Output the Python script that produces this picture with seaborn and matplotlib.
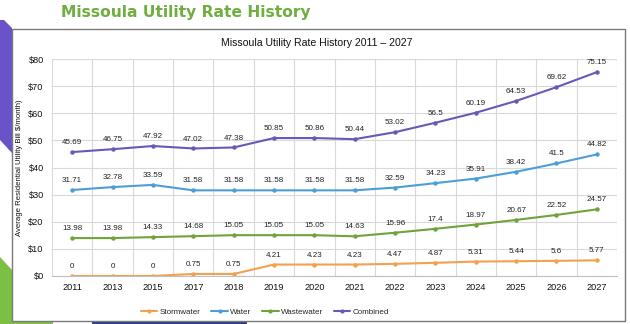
import matplotlib
matplotlib.use("Agg")
import matplotlib.pyplot as plt
from matplotlib.patches import Polygon, Rectangle
from matplotlib.lines import Line2D
from matplotlib.ticker import FixedLocator
import seaborn as sns
import pandas as pd
import numpy as np

years = ["2011", "2013", "2015", "2017", "2018", "2019", "2020", "2021",
         "2022", "2023", "2024", "2025", "2026", "2027"]
stormwater = [0, 0, 0, 0.75, 0.75, 4.21, 4.23, 4.23, 4.47, 4.87, 5.31, 5.44, 5.6, 5.77]
water = [31.71, 32.78, 33.59, 31.58, 31.58, 31.58, 31.58, 31.58, 32.59, 34.23, 35.91, 38.42, 41.5, 44.82]
wastewater = [13.98, 13.98, 14.33, 14.68, 15.05, 15.05, 15.05, 14.63, 15.96, 17.4, 18.97, 20.67, 22.52, 24.57]
combined = [45.69, 46.75, 47.92, 47.02, 47.38, 50.85, 50.86, 50.44, 53.02, 56.5, 60.19, 64.53, 69.62, 75.15]
series_names = ["Stormwater", "Water", "Wastewater", "Combined"]
y_ticks = [0, 10, 20, 30, 40, 50, 60, 70, 80]
y_tick_labels = ["$0", "$10", "$20", "$30", "$40", "$50", "$60", "$70", "$80"]

colors = {"Stormwater": "#f2a14f", "Water": "#4b9fd6", "Wastewater": "#6fa33b", "Combined": "#6a58b8"}

values = {"Stormwater": stormwater, "Water": water, "Wastewater": wastewater, "Combined": combined}
df = pd.DataFrame([(y, s, v) for s in series_names for y, v in zip(years, values[s])],
                  columns=["Year", "Series", "Value"])

sns.set_style("white")
plt.rcParams["font.family"] = ["Liberation Sans", "DejaVu Sans"]

W, H = 630, 324
fig = plt.figure(figsize=(W / 100, H / 100), dpi=100)
fig.patch.set_facecolor("white")

def P(x, y):
    return (x / W, 1 - y / H)

# slide decorations
fig.add_artist(Polygon([P(0, 20), P(4, 20), P(12, 28), P(12, 153), P(0, 140)],
                       closed=True, transform=fig.transFigure, facecolor="#6a52c8",
                       edgecolor="none", zorder=-3))
fig.add_artist(Polygon([P(0, 257), P(12, 270), P(12, 318), P(53, 318), P(53, 324), P(0, 324)],
                       closed=True, transform=fig.transFigure, facecolor="#7bc043",
                       edgecolor="none", zorder=-3))
fig.add_artist(Rectangle(P(92, 324), 155 / W, 3 / H, transform=fig.transFigure,
                         facecolor="#2e3f8f", edgecolor="none", zorder=-3))
# chart box
fig.add_artist(Rectangle(P(12, 321), (625 - 12) / W, (321 - 29) / H, transform=fig.transFigure,
                         facecolor="white", edgecolor="#7a7a7a", linewidth=1.0, zorder=-2))

fig.text(186 / W, 1 - 12 / H, "Missoula Utility Rate History", ha="center", va="center",
         fontsize=11.2, fontweight="bold", color="#6fae3f", family="DejaVu Sans")
fig.text(317 / W, 1 - 43 / H, "Missoula Utility Rate History 2011 – 2027", ha="center",
         va="center", fontsize=7.6, color="#111111")

ax = fig.add_axes([52 / W, 1 - 276 / H, (617 - 52) / W, (276 - 59) / H])
ax.set_facecolor("none")

sns.lineplot(data=df, x="Year", y="Value", hue="Series", hue_order=series_names,
             palette=colors, marker="o", markersize=3.2, markeredgewidth=0,
             linewidth=1.5, sort=False, legend=False, ax=ax)

for s in series_names:
    for i, v in enumerate(values[s]):
        ax.annotate(f"{v:g}", (i, v), xytext=(0, 6.8), textcoords="offset points",
                    ha="center", va="center", fontsize=5.8, color="#222222")

ax.set_xlim(-0.5, len(years) - 0.5)
ax.set_ylim(0, 80)
ax.yaxis.set_major_locator(FixedLocator(y_ticks))
ax.set_yticklabels(y_tick_labels)
ax.xaxis.set_minor_locator(FixedLocator(np.arange(-0.5, len(years), 1)))
ax.grid(True, axis="y", which="major", color="#d9d9d9", linewidth=0.8)
ax.grid(True, axis="x", which="minor", color="#d9d9d9", linewidth=0.8)
ax.grid(False, axis="x", which="major")
ax.tick_params(axis="both", which="both", length=0, labelsize=6.6, colors="#111111")
ax.tick_params(axis="x", pad=5)
ax.tick_params(axis="y", pad=6)
for sp in ["top", "right", "left"]:
    ax.spines[sp].set_visible(False)
ax.spines["bottom"].set_color("#bfbfbf")
ax.spines["bottom"].set_linewidth(0.8)
ax.set_xlabel("")
ax.set_ylabel("Average Residential Utility Bill $/month)", fontsize=5.6, color="#111111", labelpad=4)
ax.yaxis.set_label_coords(-0.052, 0.5)

handles = [Line2D([0], [0], color=colors[s], lw=1.5, marker="o", markersize=3, markeredgewidth=0)
           for s in series_names]
fig.legend(handles, series_names, loc="center", bbox_to_anchor=(265 / W, 1 - 312 / H),
           ncol=4, frameon=False, fontsize=5.8, handlelength=2.0, handletextpad=0.3,
           columnspacing=1.4)

fig.savefig("out.png", dpi=100, facecolor="white")
